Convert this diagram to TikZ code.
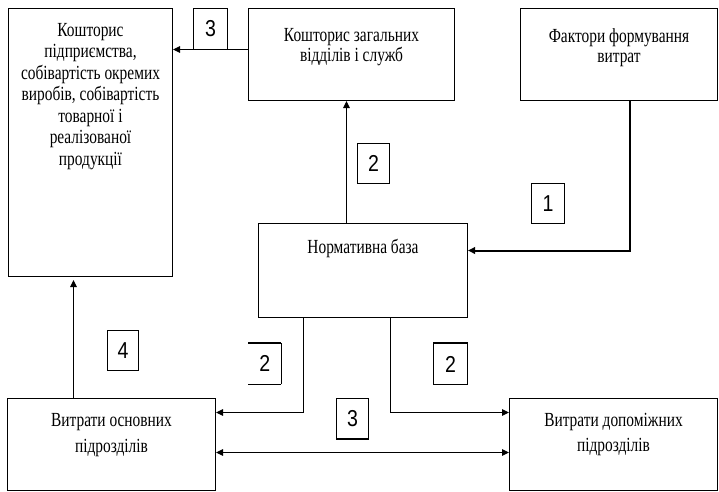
\documentclass[tikz,border=0pt]{standalone}
\usepackage{fontspec}
\setmainfont{Liberation Serif}[FakeStretch=0.77]
\newfontfamily\digitfont{Liberation Sans}[FakeStretch=0.85]
\usetikzlibrary{arrows.meta}
\begin{document}
\begin{tikzpicture}[x=1pt,y=-1pt,
  box/.style={draw, line width=1pt, inner sep=0pt, anchor=north west},
  txt/.style={anchor=north, align=center, inner sep=0pt, font=\fontsize{20}{#1}\selectfont},
  txt/.default=21.5,
  numbox/.style={inner sep=0pt, anchor=north west, minimum width=#1,
    font=\digitfont\fontsize{23}{23}\selectfont},
  numbox/.default=32pt,
  frame/.style={line width=1pt},
  heavy/.style={line width=1.8pt},
  arr/.style={line width=1pt, -{Triangle[length=7pt,width=6.5pt]}},
  dblarr/.style={line width=1pt, {Triangle[length=7pt,width=6.5pt]}-{Triangle[length=7pt,width=6.5pt]}},
  ]
\useasboundingbox (0,0) rectangle (719,491);

% main blocks
\node[box, minimum width=164pt, minimum height=268pt] (A) at (8,8) {};
\node[box, minimum width=206pt, minimum height=92pt]  (B) at (248,8) {};
\node[box, minimum width=197pt, minimum height=92pt]  (C) at (520,8) {};
\node[box, minimum width=209pt, minimum height=94pt]  (D) at (258,223) {};
\node[box, minimum width=208pt, minimum height=92pt]  (E) at (7,398) {};
\node[box, minimum width=208pt, minimum height=92pt]  (F) at (509,398) {};

% block captions
\node[txt] (At) at ([yshift=-15pt]A.north) {Кошторис\\ підприємства,\\ собівартість окремих\\ виробів, собівартість\\ товарної і\\ реалізованої\\ продукції};
\node[txt=20] (Bt) at ([yshift=-20pt]B.north) {Кошторис загальних\\ відділів і служб};
\node[txt=20] (Ct) at ([yshift=-20pt]C.north) {Фактори формування\\ витрат};
\node[txt] (Dt) at ([yshift=-16pt]D.north) {Нормативна база};
\node[txt=26] (Et) at ([yshift=-15pt]E.north) {Витрати основних\\ підрозділів};
\node[txt=25] (Ft) at ([yshift=-15pt]F.north) {Витрати допоміжних\\ підрозділів};

% connectors
\draw[arr] ([yshift=5pt]B.west) -- ([yshift=5pt]B.west -| A.east);
\draw[arr] ([xshift=-16.5pt]D.north) -- ([xshift=-16.5pt]D.north |- B.south);
\draw[line width=2pt, -{Triangle[length=7pt,width=6.5pt]}] ([xshift=10.5pt]C.south) |- ([yshift=20pt]D.east);
\draw[arr] ([xshift=-59.5pt]D.south) |- ([yshift=32pt]E.east);
\draw[arr] ([xshift=27.5pt]D.south) |- ([yshift=32pt]F.west);
\draw[dblarr] ([yshift=-8pt]E.east) -- ([yshift=-8pt]F.west);
\draw[arr, shorten >=3pt] ([xshift=-38pt]E.north) -- ([xshift=-38pt]E.north |- A.south);

% stage numbers
\node[numbox=34pt, minimum height=41pt, draw, frame] (n3a) at (193,8) {3};
\node[numbox, minimum height=40pt, draw, frame] (n2a) at (357,143) {2};
\node[numbox=33pt, minimum height=40pt, draw, frame] (n1) at (531,183) {1};
\node[numbox=31pt, minimum height=40pt, draw, frame] (n4) at (107,330) {4};
\node[numbox=33pt, minimum height=41pt] (n2b) at (248,343) {2};
\node[numbox=34pt, minimum height=41pt, draw, frame] (n2c) at (433,343) {2};
\node[numbox, minimum height=40pt, draw, frame] (n3b) at (336,398) {3};

% the open frame and the heavier edges
\draw[frame] (n2b.north east) -- (n2b.south east);
\draw[frame] (n2b.south east) -- (n2b.south west);
\draw[heavy] (n2b.north west) -- (n2b.north east);
\draw[heavy] (n2c.north west) -- (n2c.north east);
\draw[heavy] (n3b.south west) -- (n3b.south east);
\end{tikzpicture}
\end{document}
